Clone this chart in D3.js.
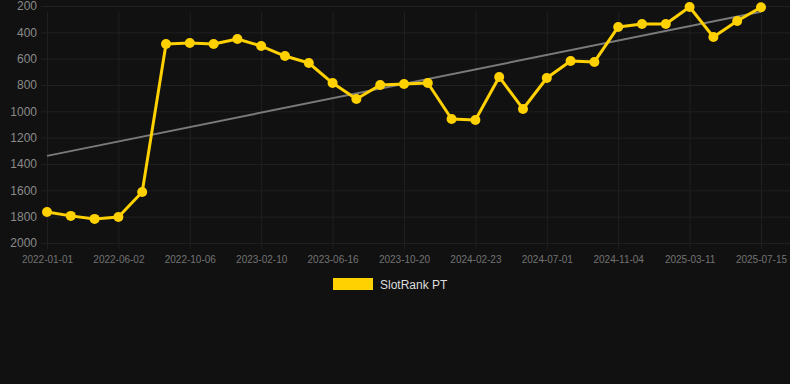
<!DOCTYPE html>
<meta charset="utf-8">
<script src="https://d3js.org/d3.v7.min.js"></script>
<style>
  body { margin: 0; background: #111111; }
  svg { display: block; font-family: "Liberation Sans", Arial, sans-serif; }
</style>
<div id="my_dataviz"></div>
<script>
  // dates of each sample (only every third one is labelled on the axis)
  var dates = [
    "2022-01-01", "2022-02-21", "2022-04-12", "2022-06-02", "2022-07-14", "2022-08-25",
    "2022-10-06", "2022-11-17", "2022-12-29", "2023-02-10", "2023-03-24", "2023-05-05",
    "2023-06-16", "2023-07-28", "2023-09-08", "2023-10-20", "2023-12-01", "2024-01-12",
    "2024-02-23", "2024-04-05", "2024-05-17", "2024-07-01", "2024-08-12", "2024-09-23",
    "2024-11-04", "2024-12-16", "2025-01-27", "2025-03-11", "2025-04-22", "2025-06-03",
    "2025-07-15"
  ];
  // rank values for SlotRank PT
  var ranks = [
    1764, 1794, 1817, 1802, 1612, 489,
    481, 489, 451, 504, 580, 633,
    785, 906, 800, 792, 785, 1058,
    1066, 739, 982, 747, 618, 625,
    359, 337, 337, 208, 435, 314,
    210
  ];
  var yTicks = [200, 400, 600, 800, 1000, 1200, 1400, 1600, 1800, 2000];
  var seriesName = "SlotRank PT";

  var width = 790, height = 384;
  var svg = d3.select("#my_dataviz").append("svg")
    .attr("width", width).attr("height", height);

  svg.append("rect").attr("width", width).attr("height", height).attr("fill", "#111111");

  var x = d3.scalePoint().domain(dates).range([47, 761]);
  var y = d3.scaleLinear().domain([200, 2000]).range([6, 243]);
  var labelled = dates.filter(function(d, i) { return i % 3 === 0; });

  // horizontal grid + y labels
  var yAxis = svg.append("g").attr("transform", "translate(47,0)")
    .call(d3.axisLeft(y).tickValues(yTicks).tickFormat(d3.format("d"))
      .tickSize(6).tickPadding(4).tickSizeOuter(0));
  yAxis.select(".domain").remove();
  yAxis.selectAll(".tick line").attr("x1", -6).attr("x2", width - 47).attr("stroke", "#202020");
  yAxis.selectAll(".tick text").attr("fill", "#8a8a8a").style("font-size", "12px")
    .attr("x", -10);

  // vertical grid + x labels
  var xAxis = svg.append("g").attr("transform", "translate(0,243)")
    .call(d3.axisBottom(x).tickValues(labelled).tickSize(6).tickPadding(7).tickSizeOuter(0));
  xAxis.select(".domain").remove();
  xAxis.selectAll(".tick line").attr("y1", 6).attr("y2", 6 - 243 + 6).attr("stroke", "#202020");
  xAxis.selectAll(".tick text").attr("fill", "#737373").style("font-size", "10px");

  // trend line (least squares fit over the samples)
  var n = ranks.length;
  var mx = d3.mean(ranks, function(d, i) { return i; });
  var my = d3.mean(ranks);
  var sxy = d3.sum(ranks, function(d, i) { return (i - mx) * (d - my); });
  var sxx = d3.sum(ranks, function(d, i) { return (i - mx) * (i - mx); });
  var slope = sxy / sxx, icpt = my - slope * mx;
  svg.append("line")
    .attr("x1", x(dates[0])).attr("y1", y(icpt))
    .attr("x2", x(dates[n - 1])).attr("y2", y(icpt + slope * (n - 1)))
    .attr("stroke", "#7a7a7a").attr("stroke-width", 2);

  var data = dates.map(function(d, i) { return { date: d, value: ranks[i] }; });

  svg.append("path").datum(data)
    .attr("fill", "none").attr("stroke", "#ffd100").attr("stroke-width", 3)
    .attr("stroke-linejoin", "round")
    .attr("d", d3.line().x(function(d) { return x(d.date); }).y(function(d) { return y(d.value); }));

  svg.selectAll("circle.pt").data(data).enter().append("circle")
    .attr("class", "pt")
    .attr("cx", function(d) { return x(d.date); })
    .attr("cy", function(d) { return y(d.value); })
    .attr("r", 5).attr("fill", "#ffd100");

  // legend
  svg.append("rect").attr("x", 333).attr("y", 278).attr("width", 40).attr("height", 12)
    .attr("fill", "#ffd100");
  svg.append("text").attr("x", 380).attr("y", 288.5).attr("fill", "#dddddd")
    .style("font-size", "12px").text(seriesName);
</script>
